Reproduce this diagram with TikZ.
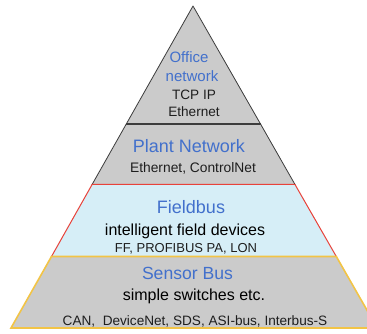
\documentclass[tikz,border=0pt]{standalone}
\usepackage{fontspec}
\setmainfont{Liberation Sans}
\definecolor{layergray}{RGB}{203,203,203}
\definecolor{layerblue}{RGB}{214,238,247}
\definecolor{titleblue}{RGB}{66,112,204}
\definecolor{edgered}{RGB}{232,66,58}
\definecolor{edgegold}{RGB}{242,196,70}
\definecolor{edgedark}{RGB}{60,60,60}
\definecolor{textdark}{RGB}{30,30,30}
\tikzset{
  title/.style={anchor=base, inner sep=0pt, text=titleblue},
  body/.style={anchor=base, inner sep=0pt, text=textdark},
}
\newcommand{\fs}[1]{\fontsize{#1}{#1}\selectfont}
\begin{document}
\begin{tikzpicture}[x=1pt,y=-1pt]
\useasboundingbox (0,0) rectangle (367,334);
\clip (0,0) rectangle (367,334);
\fill[white] (0,0) rectangle (367,334);
% layers
\draw[fill=layergray, draw=edgedark, line width=0.8pt]
  (126,124.5) -- (92.1,184.5) -- (295,184.5) -- (260.8,124.5);
\draw[fill=layergray, draw=edgedark, line width=0.8pt, line join=round]
  (193,6) -- (126,124.5) -- (260.8,124.5) -- cycle;
\draw[edgedark, line width=2pt] (126,124.5) -- (260.8,124.5);
\draw[fill=layerblue, draw=edgered, line width=1pt]
  (92.1,184.5) -- (51.5,256.5) -- (336.3,256.5) -- (295,184.5) -- cycle;
\draw[fill=layergray, draw=edgegold, line width=1.6pt]
  (51.5,256.5) -- (11,328) -- (377.2,328) -- (336.3,256.5) -- cycle;
% texts
\node[title, font=\fs{15}] (office) at (189,63) {Office};
\node[title, font=\fs{15}] (network) at (192,82) {network};
\node[body, font=\fs{13.6}] (tcp) at (194,99.5) {TCP IP};
\node[body, font=\fs{13.6}] (eth) at (194,117) {Ethernet};
\node[title, font=\fs{18}] (plant) at (189,153) {Plant Network};
\node[body, font=\fs{13.8}] (plantproto) at (193,172) {Ethernet, ControlNet};
\node[title, font=\fs{18}] (field) at (191,213) {Fieldbus};
\node[body, font=\fs{16}, text=black] (fielddesc) at (185,235) {intelligent field devices};
\node[body, font=\fs{13}] (fieldproto) at (186,252) {FF, PROFIBUS PA, LON};
\node[title, font=\fs{17.6}] (sensor) at (187.5,279) {Sensor Bus};
\node[body, font=\fs{16}, text=black] (sensordesc) at (194,300) {simple switches etc.};
\node[body, font=\fs{13.6}] (sensorproto) at (195,325) {CAN,\ \ DeviceNet, SDS, ASI-bus, Interbus-S};
\end{tikzpicture}
\end{document}
